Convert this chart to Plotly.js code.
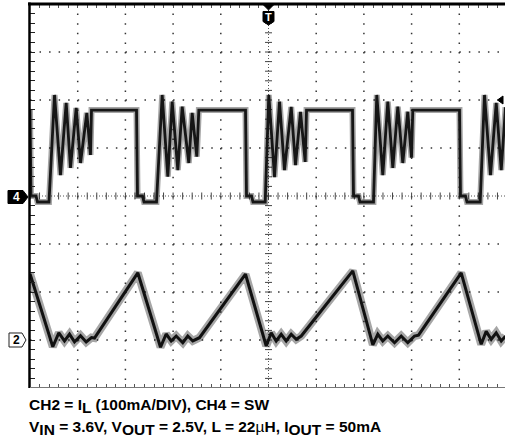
<!DOCTYPE html>
<html><head><meta charset="utf-8">
<script src="https://cdn.plot.ly/plotly-3.0.1.min.js"></script>
<style>html,body{margin:0;padding:0;overflow:hidden;background:#fff}#chart{width:505px;height:444px}</style>
</head><body><div id="chart"></div>
<script>
// ---- data (time in divisions) ----
const swTimeDiv = [0.000,0.021,0.126,0.157,0.398,0.514,0.639,0.759,0.849,0.969,1.059,1.191,1.268,1.289,2.233,2.254,2.358,2.390,2.652,
  2.771,2.889,2.981,3.099,3.191,3.329,3.400,3.497,3.539,4.518,4.539,4.644,4.675,4.931,
  5.006,5.126,5.231,5.335,5.476,5.566,5.671,5.769,5.797,6.761,6.782,6.887,6.918,7.201,
  7.270,7.396,7.501,7.606,7.711,7.815,7.920,7.998,8.025,9.004,9.025,9.130,9.161,9.438,
  9.528,9.654,9.774,9.879,9.969];
const swVolts = [3.58,0.0,0.0,-0.25,-0.25,4.21,0.87,3.88,1.17,3.67,1.375,3.46,1.71,3.58,3.58,0.0,0.0,-0.25,-0.25,
  4.21,0.81,3.93,1.08,3.72,1.375,3.46,1.64,3.58,3.58,0.0,0.0,-0.25,-0.25,
  4.21,0.79,3.93,1.08,3.71,1.29,3.50,1.42,3.58,3.58,0.0,0.0,-0.25,-0.25,
  4.21,0.87,3.93,1.17,3.72,1.375,3.51,1.60,3.58,3.58,0.0,0.0,-0.25,-0.25,
  4.21,0.87,3.88,1.08,3.70];
const ilTimeDiv = [0.000,0.478,0.604,0.723,0.828,0.933,1.059,1.178,1.289,1.352,2.260,
  2.736,2.855,2.960,3.065,3.203,3.308,3.413,3.553,4.518,
  4.952,5.057,5.161,5.266,5.371,5.476,5.581,5.686,6.767,
  7.187,7.291,7.396,7.501,7.642,7.782,7.920,8.061,8.145,9.040,
  9.459,9.564,9.669,9.774,9.879,9.969];
const ilMilliamps = [138,-14,15,-2,12,-4,9,-4,5,4,140,
  -15,12.5,-2,8.3,-5.6,8.3,-2,4.8,137,
  -12.5,15,-2,12,-2,12,1.5,8.3,144,
  -10,12,-2,8.3,-5.6,8.3,-5.6,8.3,10,140,
  -9,18,1.5,15,-2,8];
const ch4VoltsPerDiv = 2, ch4OffsetDiv = 0;
const ch2MilliampsPerDiv = 100, ch2OffsetDiv = -3;
const triggerTimeDiv = 5, triggerLevelVolts = 4;
const ch4Label = "4", ch2Label = "2", triggerLabel = "T";
const SUB = s => '<sub><span style="font-size:15.5px">' + s + '</span></sub>';
const captionLine1 = "<b>CH2 = I" + SUB("L") + " (100mA/DIV), CH4 = SW</b>";
const captionLine2 = "<b>V" + SUB("IN") + " = 3.6V, V" + SUB("OUT") + " = 2.5V, L = 22</b>µ<b>H, I" + SUB("OUT") + " = 50mA</b>";

// ---- geometry ----
const W = 505, H = 444, ML = 30, MR = 0, MT = 4, MB = 56;
const pxPerDivX = 47.7;
const xMax = (W - ML - MR) / pxPerDivX;
const PW = W - ML - MR, PH = H - MT - MB;
const pX = px => (px - ML) / PW;
const pY = py => (H - MB - py) / PH;
const divToPy = d => MT + (4 - d) * PH / 8;
const pathPx = pts => pts.map((p, i) => (i ? 'L' : 'M') + pX(p[0]).toFixed(5) + ',' + pY(p[1]).toFixed(5)).join(' ') + ' Z';

const swY = swVolts.map(v => ch4OffsetDiv + v / ch4VoltsPerDiv);
const ilY = ilMilliamps.map(v => ch2OffsetDiv + v / ch2MilliampsPerDiv);

// ---- grid ----
const shapes = [];
for (let k = 1; k <= 9; k++) {
  if (k === triggerTimeDiv) continue;
  shapes.push({type:'line', xref:'x', yref:'y', x0:k, x1:k, y0:4, y1:-4, layer:'below',
    line:{color:'#333', width:1.5, dash:'1.5px,8.1px'}});
}
for (let m = -3; m <= 3; m++) {
  if (m === 0) continue;
  shapes.push({type:'line', xref:'x', yref:'y', x0:0, x1:xMax, y0:m, y1:m, layer:'below',
    line:{color:'#333', width:1.5, dash:'1.5px,8.04px'}});
}
shapes.push({type:'line', xref:'x', yref:'y', x0:triggerTimeDiv, x1:triggerTimeDiv, y0:4, y1:-4, layer:'below',
  line:{color:'#555', width:1, dash:'1px,2px'}});
shapes.push({type:'line', xref:'x', yref:'y', x0:0, x1:xMax, y0:0, y1:0, layer:'below',
  line:{color:'#555', width:1, dash:'1px,2px'}});
// frame
shapes.push({type:'line', xref:'paper', yref:'paper', x0:pX(29.5), x1:pX(29.5), y0:pY(388), y1:pY(2.5),
  line:{color:'#000', width:2.5}});
shapes.push({type:'line', xref:'paper', yref:'paper', x0:pX(28), x1:1, y0:pY(4), y1:pY(4),
  line:{color:'#000', width:3}});
shapes.push({type:'line', xref:'paper', yref:'paper', x0:pX(30), x1:1, y0:pY(387.5), y1:pY(387.5),
  line:{color:'#777', width:1}});
// channel markers
const c4 = divToPy(ch4OffsetDiv) + 1, c2 = divToPy(ch2OffsetDiv);
shapes.push({type:'path', xref:'paper', yref:'paper', fillcolor:'#000', line:{color:'#000', width:1},
  path: pathPx([[8,c4-6.5],[23,c4-6.5],[28,c4],[23,c4+6.5],[8,c4+6.5]])});
shapes.push({type:'path', xref:'paper', yref:'paper', fillcolor:'#fff', line:{color:'#222', width:1},
  path: pathPx([[9,c2-7],[22,c2-7],[26,c2],[22,c2+7],[9,c2+7]])});
const tx = ML + triggerTimeDiv * pxPerDivX;
shapes.push({type:'path', xref:'paper', yref:'paper', fillcolor:'#000', line:{color:'#000', width:1},
  path: pathPx([[tx-6,4],[tx+6,4],[tx,10]])});
shapes.push({type:'path', xref:'paper', yref:'paper', fillcolor:'#000', line:{color:'#000', width:1},
  path: pathPx([[tx-5.5,11.5],[tx+5.5,11.5],[tx+5.5,21.5],[tx,25],[tx-5.5,21.5]])});
const ty = divToPy(ch4OffsetDiv + triggerLevelVolts / ch4VoltsPerDiv);
shapes.push({type:'path', xref:'paper', yref:'paper', fillcolor:'#000', line:{color:'#000', width:1},
  path: pathPx([[497.5,ty],[503,ty-4],[503,ty+4]])});

// ---- centre-line minor ticks ----
const hx = [], hy = [], vx = [], vy = [];
for (let j = 0; j * 0.2 <= xMax; j++) { hx.push(+(j * 0.2).toFixed(2)); hy.push(0); }
for (let j = 0; j <= 40; j++) { vx.push(triggerTimeDiv); vy.push(+(-4 + j * 0.2).toFixed(2)); }

const traces = [
  {x:hx, y:hy, mode:'markers', hoverinfo:'skip', marker:{symbol:'line-ns', size:5, line:{color:'#444', width:1}}},
  {x:vx, y:vy, mode:'markers', hoverinfo:'skip', marker:{symbol:'line-ew', size:5, line:{color:'#444', width:1}}},
  {x:ilTimeDiv, y:ilY, mode:'lines', line:{color:'rgba(0,0,0,0.35)', width:8}, hoverinfo:'skip'},
  {x:ilTimeDiv, y:ilY, mode:'lines', line:{color:'#111', width:3}},
  {x:swTimeDiv, y:swY, mode:'lines', line:{color:'rgba(0,0,0,0.35)', width:6}, hoverinfo:'skip'},
  {x:swTimeDiv, y:swY, mode:'lines', line:{color:'#161616', width:2.8}}
];

const font = 'Liberation Sans, Arial, Helvetica, sans-serif';
const annotations = [
  {xref:'paper', yref:'paper', x:pX(16), y:pY(c4), text:'<b>'+ch4Label+'</b>', showarrow:false,
   font:{family:font, size:12, color:'#fff'}, xanchor:'center', yanchor:'middle'},
  {xref:'paper', yref:'paper', x:pX(16), y:pY(c2), text:'<b>'+ch2Label+'</b>', showarrow:false,
   font:{family:font, size:12, color:'#000'}, xanchor:'center', yanchor:'middle'},
  {xref:'paper', yref:'paper', x:pX(tx), y:pY(17), text:'<b>'+triggerLabel+'</b>', showarrow:false,
   font:{family:font, size:11, color:'#fff'}, xanchor:'center', yanchor:'middle'},
  {xref:'paper', yref:'paper', x:pX(27), y:pY(394), text:captionLine1, showarrow:false,
   font:{family:font, size:15.5, color:'#000'}, xanchor:'left', yanchor:'top'},
  {xref:'paper', yref:'paper', x:pX(27), y:pY(416), text:captionLine2, showarrow:false,
   font:{family:font, size:15.5, color:'#000'}, xanchor:'left', yanchor:'top'}
];

const layout = {
  width:W, height:H, margin:{l:ML, r:MR, t:MT, b:MB, pad:0},
  paper_bgcolor:'#fff', plot_bgcolor:'#fff', showlegend:false,
  xaxis:{range:[0,xMax], showgrid:false, zeroline:false, showticklabels:false, showline:false,
    ticks:'inside', tick0:0, dtick:0.2, ticklen:4, tickwidth:1, tickcolor:'#555', mirror:'ticks', fixedrange:true},
  yaxis:{range:[-4,4], showgrid:false, zeroline:false, showticklabels:false, showline:false,
    ticks:'inside', tick0:0, dtick:0.2, ticklen:5, tickwidth:1, tickcolor:'#222', fixedrange:true},
  shapes:shapes, annotations:annotations
};
Plotly.newPlot('chart', traces, layout, {staticPlot:true, displayModeBar:false});
</script></body></html>
